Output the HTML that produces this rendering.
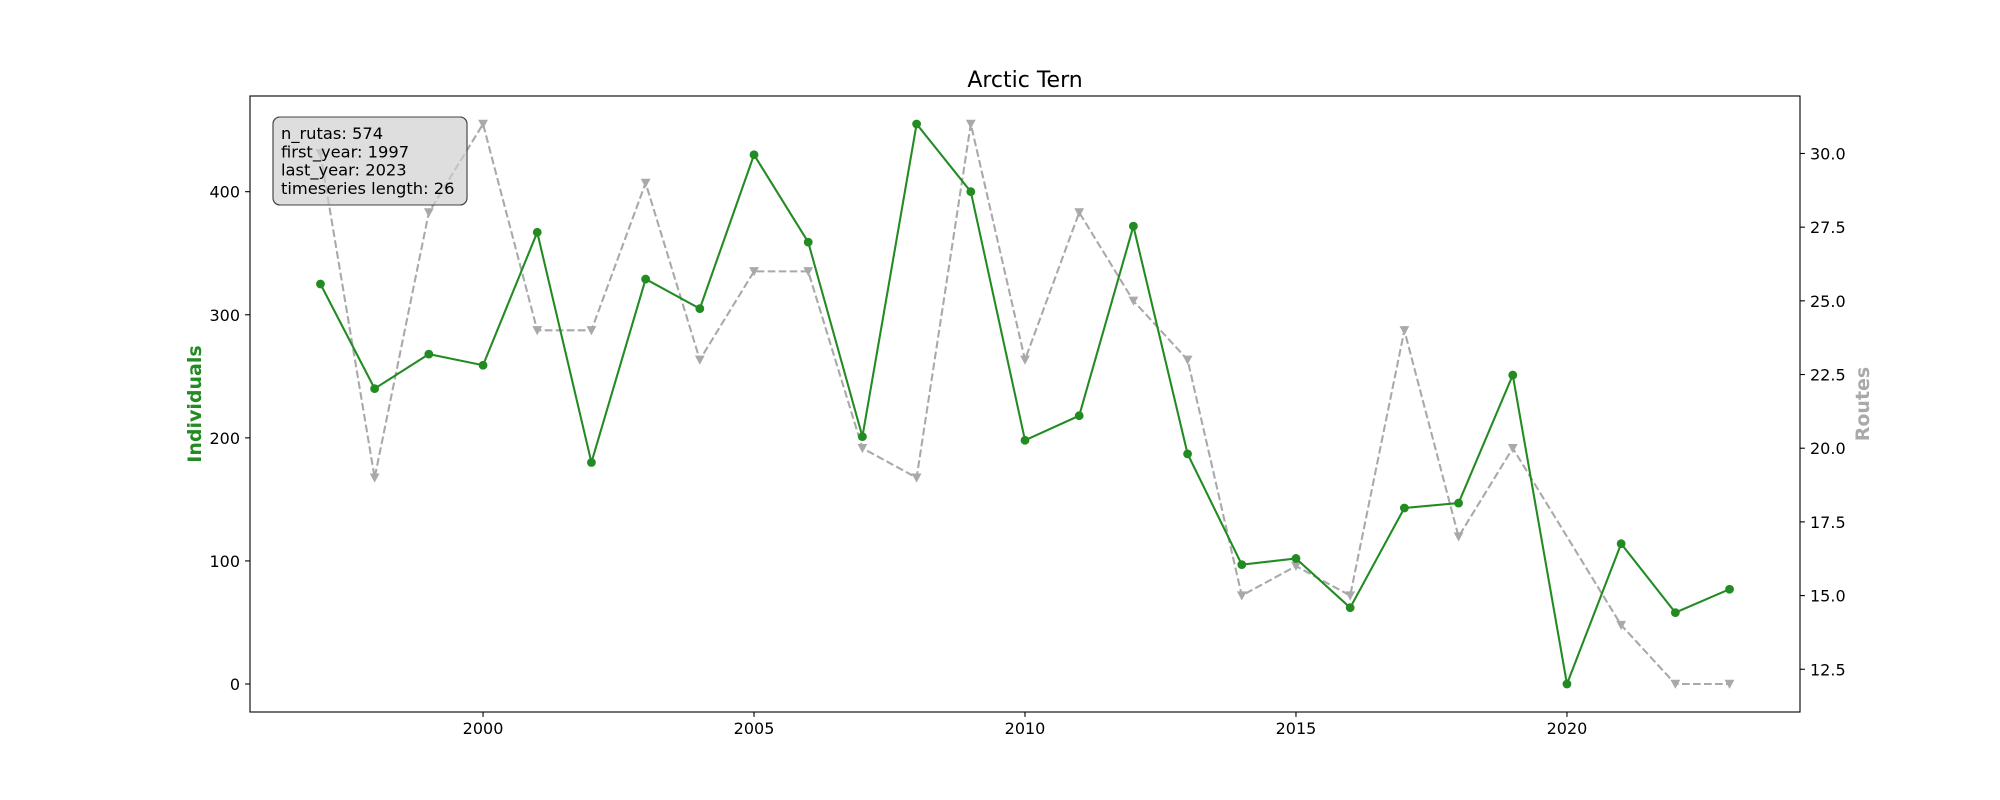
<!DOCTYPE html>
<html><head><meta charset="utf-8"><style>
body{margin:0;background:#fff}
svg{display:block;font-family:"DejaVu Sans","Liberation Sans",sans-serif}
</style></head><body>
<svg id="chart" width="2000" height="800" viewBox="0 0 2000 800"></svg>
<script>
const years=[1997,1998,1999,2000,2001,2002,2003,2004,2005,2006,2007,2008,2009,2010,2011,2012,2013,2014,2015,2016,2017,2018,2019,2020,2021,2022,2023];
const individuals=[325,240,268,259,367,180,329,305,430,359,201,455,400,198,218,372,187,97,102,62,143,147,251,0,114,58,77];
const routeYears=[1997,1998,1999,2000,2001,2002,2003,2004,2005,2006,2007,2008,2009,2010,2011,2012,2013,2014,2015,2016,2017,2018,2019,2021,2022,2023];
const routes=[30,19,28,31,24,24,29,23,26,26,20,19,31,23,28,25,23,15,16,15,24,17,20,14,12,12];
const xTicks=[2000,2005,2010,2015,2020];
const yLeftTicks=[0,100,200,300,400];
const yRightTicks=[12.5,15.0,17.5,20.0,22.5,25.0,27.5,30.0];
const infoLines=["n_rutas: 574","first_year: 1997","last_year: 2023","timeseries length: 26"];

const L=250,R=1800,T=96,B=712;
const svg=document.getElementById('chart');
const NS='http://www.w3.org/2000/svg';
function mk(tag,attrs,parent){const e=document.createElementNS(NS,tag);for(const k in attrs)e.setAttribute(k,attrs[k]);(parent||svg).appendChild(e);return e;}
const xmin=1995.7,xmax=2024.3,ylmin=-22.75,ylmax=477.75,yrmin=11.05,yrmax=31.95;
const xs=v=>L+(v-xmin)/(xmax-xmin)*(R-L);
const yl=v=>B-(v-ylmin)/(ylmax-ylmin)*(B-T);
const yr=v=>B-(v-yrmin)/(yrmax-yrmin)*(B-T);

const bx=mk('rect',{x:273,y:117,width:194,height:88,rx:7,fill:'#dedede',stroke:'#444','stroke-width':1.1});


let g2=mk('g',{});


mk('polyline',{points:routeYears.map((y,i)=>xs(y)+','+yr(routes[i])).join(' '),fill:'none',stroke:'#a9a9a9','stroke-width':2.08,'stroke-dasharray':'7.7,3.3'},g2);
routeYears.forEach((y,i)=>{const cx=xs(y),cy=yr(routes[i]);
 const p=mk('polygon',{points:`${cx-4.9},${cy-4.2} ${cx+4.9},${cy-4.2} ${cx},${cy+4.9}`,fill:'#a9a9a9'},g2);
 
 });

let g1=mk('g',{});


mk('polyline',{points:years.map((y,i)=>xs(y)+','+yl(individuals[i])).join(' '),fill:'none',stroke:'#228b22','stroke-width':2.08},g1);
years.forEach((y,i)=>{const c=mk('circle',{cx:xs(y),cy:yl(individuals[i]),r:4.4,fill:'#228b22'},g1);
 
 });

mk('rect',{x:273,y:117,width:194,height:88,rx:7,fill:'#dedede','fill-opacity':0.5,stroke:'#444','stroke-width':1.1});

mk('rect',{x:L,y:T,width:R-L,height:B-T,fill:'none',stroke:'#000','stroke-width':1.1});

xTicks.forEach(v=>{const x=xs(v);mk('line',{x1:x,x2:x,y1:B,y2:B+4.9,stroke:'#000','stroke-width':1.1});
 const t=mk('text',{x:x,y:B+22,'font-size':16,'text-anchor':'middle'});t.textContent=v;
 
 });
yLeftTicks.forEach(v=>{const y=yl(v);mk('line',{x1:L-4.9,x2:L,y1:y,y2:y,stroke:'#000','stroke-width':1.1});
 const t=mk('text',{x:L-10,y:y+6,'font-size':16,'text-anchor':'end'});t.textContent=v;
 
 });
yRightTicks.forEach(v=>{const y=yr(v);mk('line',{x1:R,x2:R+4.9,y1:y,y2:y,stroke:'#000','stroke-width':1.1});
 const t=mk('text',{x:R+10,y:y+6,'font-size':16});t.textContent=v.toFixed(1);
 
 });

let t=mk('text',{x:1025,y:87,'font-size':22,'text-anchor':'middle'});t.textContent='Arctic Tern';

t=mk('text',{x:0,y:0,'font-size':19,'font-weight':'bold',fill:'#228b22','text-anchor':'middle',transform:'translate(201,404) rotate(-90)'});t.textContent='Individuals';

t=mk('text',{x:0,y:0,'font-size':19,'font-weight':'bold',fill:'#a9a9a9','text-anchor':'middle',transform:'translate(1869,404) rotate(-90)'});t.textContent='Routes';


infoLines.forEach((s,i)=>{const tt=mk('text',{x:281,y:139+i*18.3,'font-size':16.3});tt.textContent=s;
 
 });
</script>
</body></html>
